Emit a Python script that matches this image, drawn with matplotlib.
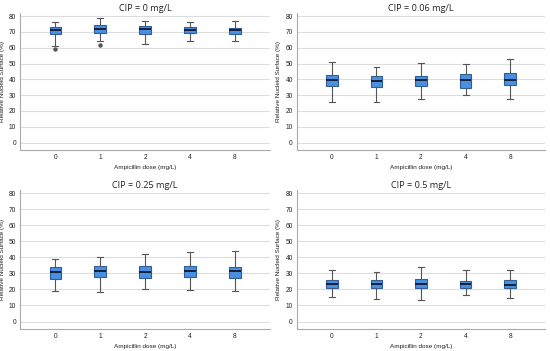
import matplotlib.pyplot as plt

doses = ['0', '1', '2', '4', '8']
titles = ['CIP = 0 mg/L', 'CIP = 0.06 mg/L', 'CIP = 0.25 mg/L', 'CIP = 0.5 mg/L']

# (whislo, q1, med, q3, whishi) per dose
cip_0 = [(61.4, 68.4, 71.5, 73.0, 76.2),
         (64.1, 69.4, 71.7, 74.5, 79.0),
         (62.4, 68.8, 72.0, 73.9, 77.2),
         (64.5, 69.6, 71.5, 73.2, 76.2),
         (64.1, 68.8, 71.1, 72.6, 77.0)]
cip_0_fliers = [[59.5], [61.6], [], [], []]
cip_006 = [(25.8, 35.6, 39.4, 42.5, 50.8),
           (26.0, 35.1, 39.2, 41.9, 48.0),
           (27.3, 35.8, 39.6, 42.1, 50.6),
           (30.3, 34.7, 39.6, 43.2, 49.7),
           (27.7, 36.2, 39.8, 43.8, 53.1)]
cip_025 = [(18.9, 26.7, 31.1, 33.9, 38.9),
           (18.3, 28.0, 31.2, 34.3, 40.2),
           (20.2, 27.2, 30.9, 34.3, 41.9),
           (19.6, 28.0, 31.6, 34.5, 43.4),
           (18.9, 27.2, 31.2, 34.1, 43.8)]
cip_05 = [(15.4, 20.8, 23.4, 25.7, 32.2),
          (14.3, 20.6, 23.4, 25.7, 30.9),
          (13.3, 21.1, 23.4, 26.5, 34.1),
          (16.4, 20.6, 23.2, 25.3, 31.8),
          (14.5, 20.8, 22.9, 25.7, 32.4)]

panels = [(cip_0, cip_0_fliers), (cip_006, None), (cip_025, None), (cip_05, None)]

fig = plt.figure(figsize=(5.5, 3.51), dpi=100)
rects = [[0.037, 0.573, 0.454, 0.390],
         [0.540, 0.573, 0.451, 0.390],
         [0.037, 0.063, 0.454, 0.396],
         [0.540, 0.063, 0.451, 0.396]]

for i, (data, fliers) in enumerate(panels):
    ax = fig.add_axes(rects[i])
    stats = []
    for j, (lo, q1, med, q3, hi) in enumerate(data):
        stats.append({'whislo': lo, 'q1': q1, 'med': med, 'q3': q3, 'whishi': hi,
                      'fliers': fliers[j] if fliers else []})
    ax.bxp(stats, positions=range(len(doses)), widths=0.26, patch_artist=True,
           boxprops=dict(facecolor='#4a8fe0', edgecolor='#2f5f9a', linewidth=0.8),
           medianprops=dict(color='#101830', linewidth=1.3),
           whiskerprops=dict(color='#555555', linewidth=0.8),
           capprops=dict(color='#555555', linewidth=0.8),
           capwidths=0.13,
           flierprops=dict(marker='o', markersize=2.2, markerfacecolor='#555555',
                           markeredgecolor='#555555'))
    ax.set_xlim(-0.78, 4.78)
    ax.set_ylim(-4.6, 82)
    ax.set_yticks(range(0, 81, 10))
    ax.set_xticks(range(len(doses)))
    ax.set_xticklabels(doses)
    ax.yaxis.grid(True, color='#dddddd', linewidth=0.8)
    ax.set_axisbelow(True)
    for s in ['top', 'right']:
        ax.spines[s].set_visible(False)
    for s in ['left', 'bottom']:
        ax.spines[s].set_color('#aaaaaa')
        ax.spines[s].set_linewidth(0.8)
    ax.tick_params(length=0, labelsize=4.8, colors='#222222', pad=3,
                   labelfontfamily='Liberation Sans')
    ax.set_xlabel('Ampicillin dose (mg/L)', fontsize=4.6, family='Liberation Sans',
                  color='#222222', labelpad=3)
    ax.set_ylabel('Relative Nucleid Surface (%)', fontsize=4.6, family='Liberation Sans',
                  color='#222222', labelpad=3)
    ax.set_title(titles[i], fontsize=6.6, family='Open Sans', color='#222222', pad=1.5)

fig.savefig('out.png', dpi=100)
